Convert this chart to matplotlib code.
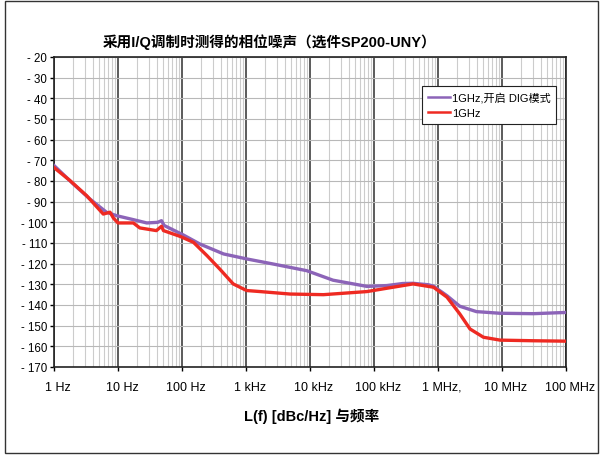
import matplotlib
matplotlib.use('Agg')
import matplotlib.pyplot as plt
from matplotlib.patches import Rectangle
from matplotlib.ticker import LogLocator, NullFormatter
from matplotlib.transforms import ScaledTranslation
import numpy as np

plt.rcParams['font.family'] = ['Liberation Sans', 'Noto Sans CJK SC', 'DejaVu Sans']

# Curve data (decade exponent of offset frequency, dBc/Hz)
dig_logf = [0.0, 0.30, 0.56, 0.82, 0.98, 1.24, 1.45, 1.62, 1.68, 1.72, 2.02, 2.28,
            2.65, 3.01, 3.43, 3.95, 4.36, 4.89, 5.20, 5.45, 5.61, 5.85, 5.93, 6.14,
            6.34, 6.60, 6.97, 7.49, 8.0]
dig_pn = [-72.5, -81.4, -88.7, -95.1, -96.8, -98.7, -100.3, -100.0, -99.2, -101.5,
          -106.1, -110.5, -115.3, -117.7, -120.2, -123.4, -128.0, -131.0, -130.6,
          -129.6, -129.5, -130.2, -130.9, -135.5, -140.6, -143.2, -144.0, -144.2, -143.6]

std_logf = [0.0, 0.25, 0.51, 0.77, 0.875, 0.93, 1.0, 1.24, 1.34, 1.60, 1.68, 1.71,
            1.97, 2.18, 2.39, 2.59, 2.80, 3.01, 3.22, 3.69, 4.21, 4.89, 5.20, 5.61,
            5.93, 6.14, 6.34, 6.50, 6.71, 6.97, 7.49, 8.0]
std_pn = [-73.5, -79.8, -87.1, -96.0, -95.1, -98.0, -100.3, -100.3, -102.7, -104.0,
          -101.9, -104.0, -106.8, -109.7, -116.1, -122.6, -129.8, -133.0, -133.5,
          -134.7, -135.0, -133.5, -131.9, -129.8, -131.4, -136.2, -144.3, -151.6,
          -155.6, -157.0, -157.3, -157.5]

x_tick_labels = ['1 Hz', '10 Hz', '100 Hz', '1 kHz', '10 kHz', '100 kHz',
                 '1 MHz,', '10 MHz', '100 MHz']
y_ticks = list(range(-20, -171, -10))
series_labels = ['1GHz,开启 DIG模式', '1GHz']

fig = plt.figure(figsize=(6.03, 4.56), dpi=100)
ax = fig.add_axes([54 / 603, 1 - 368 / 456, 512 / 603, 310 / 456])

# outer frame
fig.patches.append(Rectangle((5 / 603, 2 / 456), 593 / 603, 452 / 456,
                             transform=fig.transFigure, fill=False,
                             edgecolor='#333333', linewidth=1.0))

ax.plot(np.power(10.0, dig_logf), dig_pn, color='#8c64b8', linewidth=2.4,
        label=series_labels[0], zorder=3)
ax.plot(np.power(10.0, std_logf), std_pn, color='#ee2a22', linewidth=2.4,
        label=series_labels[1], zorder=4)

ax.set_xscale('log')
ax.set_xlim(1, 1e8)
ax.set_ylim(-170, -20)

ax.set_xticks([10.0 ** k for k in range(9)])
ax.set_xticklabels(x_tick_labels, fontsize=9)
ax.xaxis.set_minor_locator(LogLocator(base=10, subs=np.arange(2, 10), numticks=100))
ax.xaxis.set_minor_formatter(NullFormatter())
ax.set_yticks(y_ticks)
ax.set_yticklabels(['- %d' % abs(v) for v in y_ticks], fontsize=8.3)

ax.tick_params(axis='both', which='major', direction='out', length=3, width=1,
               colors='black')
ax.tick_params(axis='x', which='major', pad=7)
ax.tick_params(axis='y', which='major', pad=2)
ax.tick_params(axis='x', which='minor', length=0)

# labels in the original sit a little right of their ticks
shift = ScaledTranslation(4 / 100, 0, fig.dpi_scale_trans)
for lbl in ax.get_xticklabels():
    lbl.set_transform(lbl.get_transform() + shift)

# grid
ax.grid(axis='x', which='minor', color='#cccccc', linewidth=0.8)
ax.grid(axis='x', which='major', color='#404040', linewidth=1.2)
ax.grid(axis='y', which='major', color='#b8b8b8', linewidth=0.8)
ax.set_axisbelow(True)

for side in ['left', 'bottom', 'top', 'right']:
    ax.spines[side].set_color('#222222')
    ax.spines[side].set_linewidth(1.2)

fig.text(270 / 603, 1 - 42 / 456, '采用I/Q调制时测得的相位噪声（选件SP200-UNY）',
         ha='center', va='center', fontsize=10.5, fontweight='bold')
fig.text(312 / 603, 1 - 416 / 456, 'L(f) [dBc/Hz] 与频率',
         ha='center', va='center', fontsize=10.5, fontweight='bold')

leg = ax.legend(loc='upper left', bbox_to_anchor=((422 - 54) / 512, 1 - (87 - 58) / 310),
                fontsize=8, frameon=True, fancybox=False, handlelength=2.0,
                handletextpad=0.2, borderpad=0.5, labelspacing=0.5,
                borderaxespad=0)
leg.get_frame().set_edgecolor('#222222')
leg.get_frame().set_linewidth(0.8)
leg.get_frame().set_alpha(1)
for line in leg.get_lines():
    line.set_linewidth(1.8)

fig.savefig('out.png', dpi=100)
